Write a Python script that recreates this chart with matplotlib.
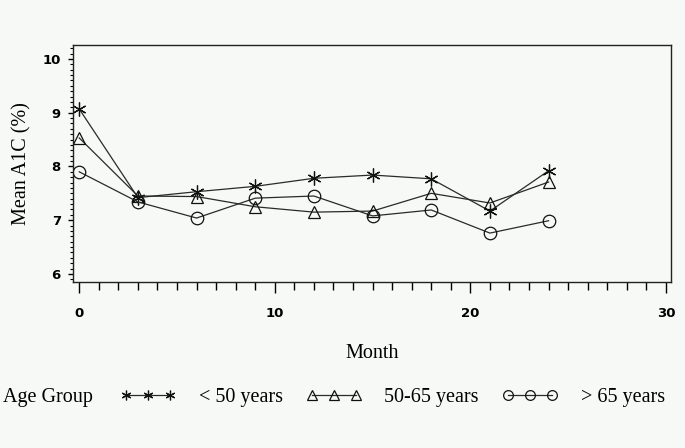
import matplotlib
matplotlib.use("Agg")
import matplotlib.pyplot as plt
from matplotlib.ticker import MultipleLocator

months = [0, 3, 6, 9, 12, 15, 18, 21, 24]
under50 = [9.07, 7.42, 7.53, 7.63, 7.78, 7.84, 7.77, 7.17, 7.92]
age50_65 = [8.53, 7.45, 7.44, 7.25, 7.15, 7.17, 7.50, 7.32, 7.71]
over65 = [7.90, 7.34, 7.04, 7.41, 7.45, 7.08, 7.19, 6.76, 6.99]
series_labels = ["< 50 years", "50-65 years", "> 65 years"]
legend_title = "Age Group"
x_ticks = [0, 10, 20, 30]
y_ticks = [6, 7, 8, 9, 10]

bg = "#f6f9f6"
fig = plt.figure(figsize=(6.85, 4.48), dpi=100, facecolor=bg)
ax = fig.add_axes([73/685, 1-282/448, (671-73)/685, (282-45)/448], facecolor=bg)

asterisk = (6, 2, 0)
line_kw = dict(color="#2a2a2a", lw=0.9, mfc="none", mec="#111111", mew=0.9)
l1, = ax.plot(months, under50, marker=asterisk, ms=10, **line_kw)
l2, = ax.plot(months, age50_65, marker="^", ms=9, **line_kw)
l3, = ax.plot(months, over65, marker="o", ms=9, **line_kw)

ax.set_xlim(-0.32, 30.26)
ax.set_ylim(5.85, 10.26)
ax.set_xticks(x_ticks)
ax.set_yticks(y_ticks)
ax.xaxis.set_minor_locator(MultipleLocator(1))
ax.yaxis.set_minor_locator(MultipleLocator(0.1))
for s in ax.spines.values():
    s.set_linewidth(1.0)
    s.set_color("#222222")
ax.tick_params(axis="x", which="major", direction="out", length=8, width=1, pad=10)
ax.tick_params(axis="x", which="minor", direction="out", length=5.4, width=1)
ax.tick_params(axis="y", which="major", direction="out", length=3.8, width=1, pad=5)
ax.tick_params(axis="y", which="minor", direction="out", length=2.2, width=0.8)
for lab in ax.get_xticklabels() + ax.get_yticklabels():
    lab.set_fontweight("bold")
    lab.set_fontsize(9.5)
    lab.set_family("DejaVu Sans")

ax.set_xlabel("Month", family="Liberation Serif", fontsize=14.5, labelpad=17)
ax.set_ylabel("Mean A1C (%)", family="Liberation Serif", fontsize=14.5, labelpad=8)

fig.text(3/685, 1-397/448, legend_title, family="Liberation Serif", fontsize=14.5,
         va="center", ha="left")
leg = fig.legend([l1, l2, l3], series_labels, loc="center left",
                 bbox_to_anchor=(102/685, 1-397/448), ncol=3, frameon=False,
                 numpoints=3, handlelength=2.8, handletextpad=1.1,
                 columnspacing=1.15, prop={"family": "Liberation Serif", "size": 14.5})
for h in leg.legend_handles:
    h.set_markersize(7)

fig.savefig("out.png", dpi=100, facecolor=bg)
